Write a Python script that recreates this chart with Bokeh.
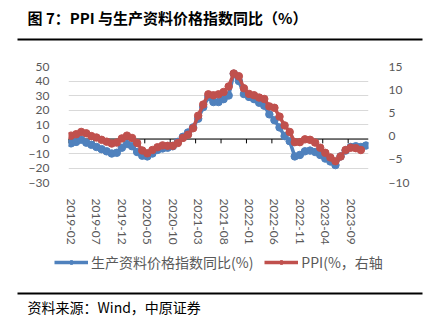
import pandas as pd
from bokeh.plotting import figure
from bokeh.layouts import column
from bokeh.core.properties import value
from bokeh.models import (Range1d, LinearAxis, FixedTicker,
                          Legend, LegendItem, ColumnDataSource)
from bokeh.embed import file_html
from bokeh.resources import INLINE

# ---- data ----
months = [str(p) for p in pd.period_range("2019-02", "2023-12", freq="M")]
materials = [-3, -2, -0.5, -2.5, -4, -5.5, -7, -8.5, -10, -9.5, -6,
             -3.5, -5, -9, -11.5, -12, -10, -7.5, -6.5, -6, -5, -2, 1.5,
             4.5, 8, 14, 22, 29, 25.5, 25.5, 27.5, 30, 45, 40, 31,
             29, 27.5, 25, 23, 17, 13, 8, 2, -1.5, -12, -11, -8.5,
             -8, -9, -11, -13.5, -15.5, -18, -12, -8, -5.5, -5, -5.5, -4.5]
ppi = [0.1, 0.4, 0.9, 0.6, 0.0, -0.3, -0.8, -1.2, -1.6, -1.4, -0.5,
       0.1, -0.4, -1.5, -3.1, -3.7, -3.0, -2.4, -2.0, -2.1, -2.1, -1.5, -0.4,
       0.3, 1.7, 4.4, 6.8, 9.0, 8.8, 9.0, 9.5, 10.7, 13.5, 12.9, 10.3,
       9.1, 8.8, 8.3, 8.0, 6.4, 6.1, 4.2, 2.3, 0.9, -1.3, -1.3, -0.7,
       -0.8, -1.4, -2.5, -3.6, -4.6, -5.4, -4.4, -3.0, -2.5, -2.6, -3.0]
left_ticks = [50, 40, 30, 20, 10, 0, -10, -20, -30]
right_ticks = [15, 10, 5, 0, -5, -10]
tick_step = 5

title_text = "图 7：PPI 与生产资料价格指数同比（%）"
source_text = "资料来源：Wind，中原证券"
name_blue = "生产资料价格指数同比(%)"
name_red = "PPI(%，右轴"

BLUE = "#4F81BD"
RED = "#C0504D"
GREY = "#595959"
CJK = "Noto Sans CJK SC"
NUM = "Lato"
W = 427


def panel(h):
    f = figure(width=W, height=h, output_backend="svg", toolbar_location=None,
               x_range=Range1d(0, W), y_range=Range1d(h, 0),
               x_axis_type=None, y_axis_type=None, min_border=0,
               outline_line_color=None, background_fill_color="white",
               border_fill_color="white", frame_align=False)
    f.xgrid.visible = False
    f.ygrid.visible = False
    return f


# ---- top: title + rule ----
top = panel(50)
top.text(x=[27], y=[17], text=[title_text], text_font=value(CJK), text_font_size="15px",
         text_font_style="bold", text_color="black", text_baseline="middle")
top.segment(x0=[17], y0=[39], x1=[422], y1=[39], line_color="black", line_width=2)

# ---- chart ----
p = figure(width=W, height=200, output_backend="svg", toolbar_location=None,
           x_range=Range1d(-0.5, len(months) - 0.5), y_range=Range1d(-30, 50),
           min_border_left=68, min_border_right=59, min_border_top=16,
           min_border_bottom=68, outline_line_color=None, background_fill_color="white",
           border_fill_color="white", frame_align=False)
p.extra_y_ranges = {"right": Range1d(-10, 15)}

p.yaxis.ticker = FixedTicker(ticks=left_ticks)
p.yaxis.axis_line_color = None
p.yaxis.major_tick_line_color = None
p.yaxis.minor_tick_line_color = None
p.yaxis.major_label_text_font = NUM
p.yaxis.major_label_text_font_size = "12px"
p.yaxis.major_label_text_color = GREY
p.yaxis.major_label_standoff = 13

ra = LinearAxis(y_range_name="right", ticker=FixedTicker(ticks=right_ticks))
ra.axis_line_color = None
ra.major_tick_line_color = None
ra.minor_tick_line_color = None
ra.major_label_text_font = NUM
ra.major_label_text_font_size = "12px"
ra.major_label_text_color = GREY
ra.major_label_standoff = 14
p.add_layout(ra, "right")

xt = list(range(0, len(months), tick_step))
p.xaxis.ticker = FixedTicker(ticks=xt)
p.xaxis.major_label_overrides = {i: months[i] for i in xt}
p.xaxis.major_label_orientation = "vertical"
p.xaxis.axis_line_color = None
p.xaxis.major_tick_line_color = None
p.xaxis.minor_tick_line_color = None
p.xaxis.major_label_text_font = NUM
p.xaxis.major_label_text_font_size = "12px"
p.xaxis.major_label_text_color = GREY
p.xaxis.major_label_standoff = 10

p.xgrid.grid_line_color = None
p.ygrid.grid_line_color = "#D9D9D9"
p.ygrid.grid_line_width = 1

xs = list(range(len(months)))
bsrc = ColumnDataSource(dict(x=xs, y=materials))
rsrc = ColumnDataSource(dict(x=xs[:len(ppi)], y=ppi))

# zero axis line with small ticks (drawn under the series)
tx = [i - 0.5 for i in range(0, len(months), tick_step)]
p.segment(x0=tx, y0=[0] * len(tx), x1=tx, y1=[-3] * len(tx), line_color="black", line_width=1)
p.line(x=[-0.5, len(months) - 0.5], y=[0, 0], line_color="black", line_width=1)

p.line("x", "y", source=bsrc, line_color=BLUE, line_width=3.5)
p.scatter("x", "y", source=bsrc, size=7.5, fill_color=BLUE, line_color=BLUE)
p.line("x", "y", source=rsrc, line_color=RED, line_width=3.5, y_range_name="right")
p.scatter("x", "y", source=rsrc, size=7.5, fill_color=RED, line_color=RED, y_range_name="right")

# ---- bottom: legend, rule, source ----
bot = panel(75)
off = dict(x=[-50, -40], y=[-50, -50])  # legend swatches only (outside the visible range)
lb = bot.line(line_color=BLUE, line_width=3.5, **off)
sb = bot.scatter(size=7.5, fill_color=BLUE, line_color=BLUE, **off)
lr = bot.line(line_color=RED, line_width=3.5, **off)
sr = bot.scatter(size=7.5, fill_color=RED, line_color=RED, **off)
legend = Legend(items=[LegendItem(label=name_blue, renderers=[lb, sb]),
                       LegendItem(label=name_red, renderers=[lr, sr])],
                orientation="horizontal", location=(54, 53),
                label_text_font=CJK, label_text_font_size="14px", label_text_color=GREY,
                glyph_width=34, glyph_height=10, spacing=11, label_standoff=3,
                border_line_color=None, background_fill_alpha=0, padding=0, margin=0)
bot.add_layout(legend, "center")
bot.segment(x0=[17], y0=[43], x1=[422], y1=[43], line_color="black", line_width=2)
bot.text(x=[27], y=[56], text=[source_text], text_font=value(CJK), text_font_size="14px",
         text_color="black", text_baseline="middle")

layout = column(top, p, bot, spacing=0)
open("out.html", "w").write(file_html(layout, INLINE))
